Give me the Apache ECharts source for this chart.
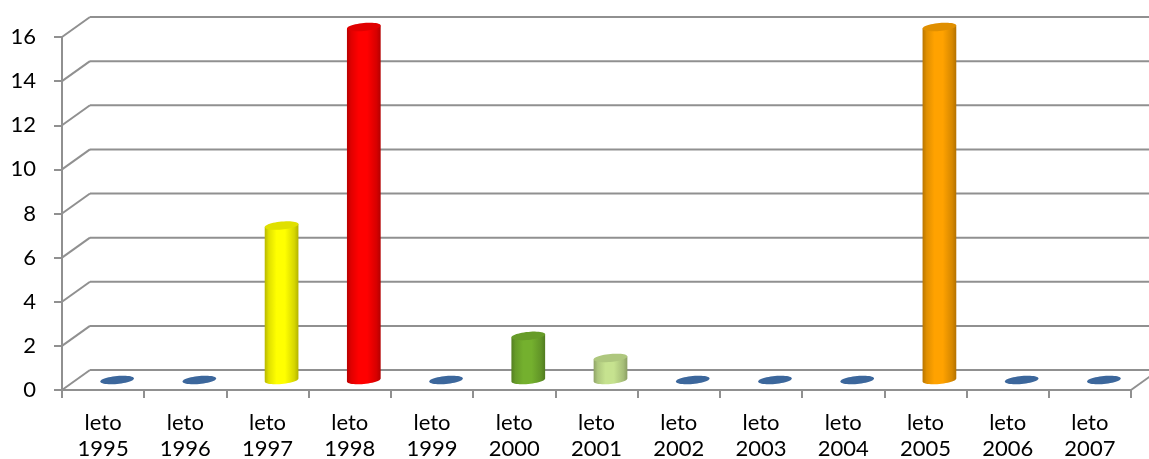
<!DOCTYPE html>
<html>
<head>
<meta charset="utf-8">
<script src="https://cdn.jsdelivr.net/npm/echarts@6/dist/echarts.min.js"></script>
<style>
  html, body { margin: 0; padding: 0; background: #fff; }
  #chart { width: 1149px; height: 459px; }
</style>
</head>
<body>
<div id="chart"></div>
<script>
// Categories and values per year
const categories = ['leto 1995', 'leto 1996', 'leto 1997', 'leto 1998', 'leto 1999', 'leto 2000', 'leto 2001',
                    'leto 2002', 'leto 2003', 'leto 2004', 'leto 2005', 'leto 2006', 'leto 2007'];
const values = [0, 0, 7, 16, 0, 2, 1, 0, 0, 0, 16, 0, 0];
const barColors = ['#3c679c', '#3c679c', '#ffff00', '#ff0000', '#3c679c', '#74b02e', '#c6e28f',
                   '#3c679c', '#3c679c', '#3c679c', '#ffa200', '#3c679c', '#3c679c'];
const yTicks = [0, 2, 4, 6, 8, 10, 12, 14, 16];

// depth of the 3D box (front axis -> back wall), in pixels
const DX = 28, DY = -20;
const GRID_COLOR = '#909090';
const FONT = 'Lato, "Open Sans", sans-serif';

function shade(hex, f) {
  const n = parseInt(hex.slice(1), 16);
  const c = [(n >> 16) & 255, (n >> 8) & 255, n & 255].map(v => Math.max(0, Math.min(255, Math.round(v * f))));
  return 'rgb(' + c.join(',') + ')';
}

// point on a slightly tilted ellipse
function ept(cx, cy, rx, ry, k, t) {
  return [cx + rx * Math.cos(t), cy + ry * Math.sin(t) - k * rx * Math.cos(t)];
}

function renderCylinder(params, api) {
  const i = api.value(0);
  const v = api.value(1);
  const color = barColors[i];
  const base = api.coord([i, 0]);
  const top = api.coord([i, v]);
  const w = api.size([1, 0])[0];
  const rx = w * 0.205, ry = 4, k = 0.09;
  const cx = base[0] + DX / 2;
  const botCy = base[1] + DY / 2;
  const topCy = top[1] + DY / 2;
  const N = 48;

  const topPts = [];
  for (let s = 0; s < N; s++) topPts.push(ept(cx, topCy, rx, ry, k, (s / N) * Math.PI * 2));

  if (v === 0) {
    return {
      type: 'polygon',
      shape: { points: topPts, smooth: 0 },
      style: { fill: color }
    };
  }

  const body = [ept(cx, topCy, rx, ry, k, Math.PI)];
  for (let s = 0; s <= N / 2; s++) body.push(ept(cx, botCy, rx, ry, k, Math.PI - (s / (N / 2)) * Math.PI));
  body.push(ept(cx, topCy, rx, ry, k, 0));

  return {
    type: 'group',
    children: [
      {
        type: 'polygon',
        shape: { points: body },
        style: {
          fill: new echarts.graphic.LinearGradient(0, 0, 1, 0, [
            { offset: 0, color: shade(color, 0.72) },
            { offset: 0.12, color: shade(color, 0.88) },
            { offset: 0.35, color: color },
            { offset: 0.6, color: color },
            { offset: 0.88, color: shade(color, 0.84) },
            { offset: 1, color: shade(color, 0.7) }
          ])
        }
      },
      {
        type: 'polygon',
        shape: { points: topPts },
        style: { fill: shade(color, 0.88) }
      }
    ]
  };
}

// back wall gridlines, their diagonals to the front axis and the floor edge
function renderFrame(params, api) {
  const val = api.value(1);
  const cs = params.coordSys;
  const y = api.coord([0, val])[1];
  const x0 = cs.x;
  const xR = cs.x + cs.width;
  const lineStyle = { stroke: GRID_COLOR, lineWidth: 2 };
  const children = [
    { type: 'line', shape: { x1: x0, y1: y, x2: x0 + DX, y2: y + DY }, style: lineStyle },
    { type: 'line', shape: { x1: x0 + DX, y1: y + DY, x2: xR + DX, y2: y + DY }, style: lineStyle }
  ];
  if (val === 0) {
    children.push({ type: 'line', shape: { x1: xR, y1: y, x2: xR + DX, y2: y + DY }, style: lineStyle });
  }
  return { type: 'group', children: children };
}

const chart = echarts.init(document.getElementById('chart'));
chart.setOption({
  animation: false,
  backgroundColor: '#ffffff',
  grid: { left: 62, right: 18, top: 37, bottom: 69, outerBoundsMode: 'none', containLabel: false },
  xAxis: {
    type: 'category',
    data: categories,
    boundaryGap: true,
    axisLine: { show: true, lineStyle: { color: GRID_COLOR, width: 2 } },
    axisTick: { show: true, length: 8, alignWithLabel: false, lineStyle: { color: GRID_COLOR, width: 2 } },
    axisLabel: {
      interval: 0,
      margin: 20,
      color: '#000',
      fontFamily: FONT,
      fontSize: 22,
      lineHeight: 26,
      formatter: s => s.replace(' ', '\n')
    },
    splitLine: { show: false }
  },
  yAxis: {
    type: 'value',
    min: 0,
    max: 16,
    interval: 2,
    axisLine: { show: true, lineStyle: { color: GRID_COLOR, width: 2 } },
    axisTick: { show: true, length: 8, lineStyle: { color: GRID_COLOR, width: 2 } },
    axisLabel: { margin: 26, color: '#000', fontFamily: FONT, fontSize: 22 },
    splitLine: { show: false }
  },
  series: [
    {
      type: 'custom',
      z: 1,
      clip: false,
      silent: true,
      renderItem: renderFrame,
      encode: { x: 0, y: 1 },
      data: yTicks.map(t => [0, t])
    },
    {
      type: 'custom',
      z: 3,
      clip: false,
      renderItem: renderCylinder,
      encode: { x: 0, y: 1 },
      data: values.map((v, i) => [i, v])
    }
  ]
});
</script>
</body>
</html>
